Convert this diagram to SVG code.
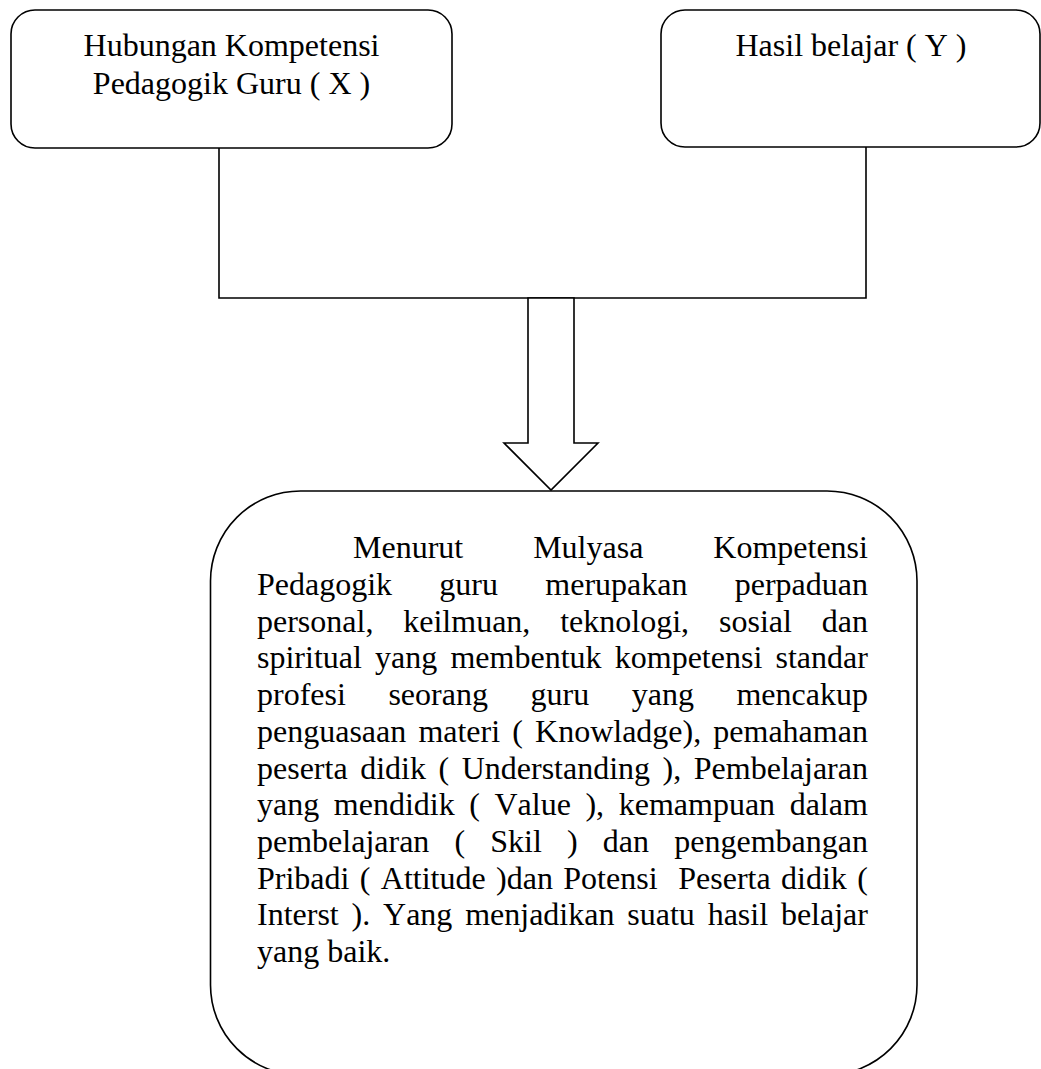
<svg xmlns="http://www.w3.org/2000/svg" width="1041" height="1069" viewBox="0 0 1041 1069">
<style>
.box{fill:#fff;stroke:#000;stroke-width:1.6}
.ln{fill:none;stroke:#000;stroke-width:1.6}
.arr{fill:#fff;stroke:#000;stroke-width:1.6;stroke-linejoin:miter}
text{font-family:"Liberation Serif","Times New Roman",serif;font-size:32px;fill:#000;font-kerning:none}
.c{text-anchor:middle}
</style>
<rect width="1041" height="1069" fill="#fff"/>
<g id="connectors">
<polyline class="ln" points="219,148 219,298 866,298 866,147"/>
<polygon class="arr" points="528,298 574,298 574,443 598,443 551,490 504,443 528,443"/>
</g>
<g id="node-x">
<rect class="box" x="11" y="10" width="441" height="138" rx="24" ry="24"/>
<text class="c" x="231.5" y="56">Hubungan Kompetensi</text>
<text class="c" x="231.5" y="94">Pedagogik Guru ( X )</text>
</g>
<g id="node-y">
<rect class="box" x="661" y="10" width="379" height="137" rx="24" ry="24"/>
<text class="c" x="851" y="56">Hasil belajar ( Y )</text>
</g>
<g id="node-desc">
<rect class="box" x="210.5" y="491" width="706.5" height="584" rx="90" ry="90"/>
<text x="353" y="558.3" style="word-spacing:61.95px">Menurut Mulyasa Kompetensi</text>
<text x="257" y="595" style="word-spacing:39.27px">Pedagogik guru merupakan perpaduan</text>
<text x="257" y="631.7" style="word-spacing:21.87px">personal, keilmuan, teknologi, sosial dan</text>
<text x="257" y="668.4" style="word-spacing:5.2px">spiritual yang membentuk kompetensi standar</text>
<text x="257" y="705.1" style="word-spacing:34.55px">profesi seorang guru yang mencakup</text>
<text x="257" y="741.8" style="word-spacing:4.12px">penguasaan materi ( Knowladge), pemahaman</text>
<text x="257" y="778.5" style="word-spacing:4.54px">peserta didik ( Understanding ), Pembelajaran</text>
<text x="257" y="815.2" style="word-spacing:6.58px">yang mendidik ( Value ), kemampuan dalam</text>
<text x="257" y="851.9" style="word-spacing:17.16px">pembelajaran ( Skil ) dan pengembangan</text>
<text x="257" y="888.6" style="word-spacing:2.37px" xml:space="preserve">Pribadi ( Attitude )dan Potensi  Peserta didik (</text>
<text x="257" y="925.3" style="word-spacing:4.82px">Interst ). Yang menjadikan suatu hasil belajar</text>
<text x="257" y="962">yang baik.</text>
</g>
</svg>
